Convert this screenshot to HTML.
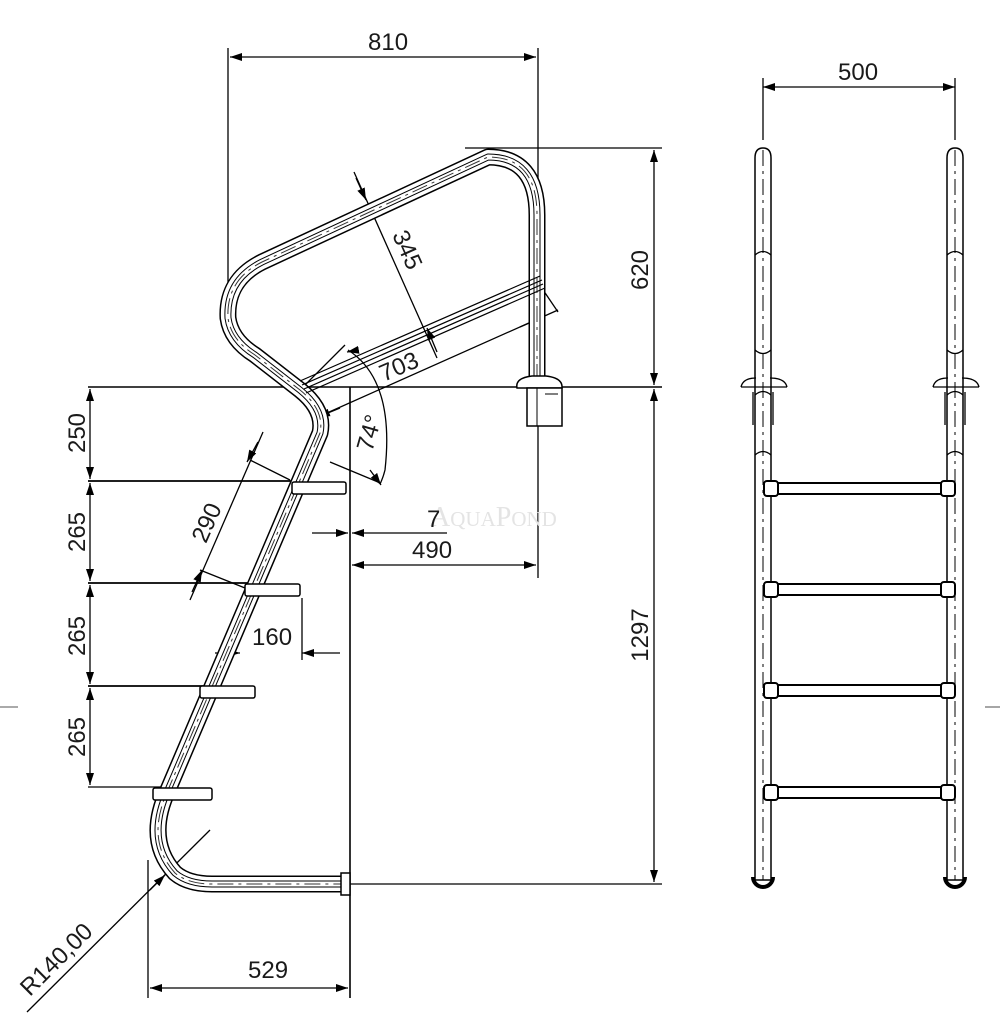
<!DOCTYPE html>
<html><head><meta charset="utf-8"><style>
html,body{margin:0;padding:0;background:#fff;}
svg{display:block;}
text{font-family:"Liberation Sans",sans-serif;font-size:24px;fill:#1a1a1a;}
</style></head><body>
<svg width="1000" height="1035" viewBox="0 0 1000 1035" xmlns="http://www.w3.org/2000/svg">
<defs>
<marker id="a" viewBox="0 0 12 8" refX="12" refY="4" markerWidth="12" markerHeight="8" orient="auto-start-reverse" markerUnits="userSpaceOnUse"><path d="M0,0 L12,4 L0,8 z" fill="#000"/></marker>
</defs>
<g fill="none" stroke="#000" stroke-width="1.3">
<line x1="228" y1="48" x2="228" y2="292"/>
<line x1="538" y1="48" x2="538" y2="578"/>
<line x1="465" y1="148" x2="662" y2="148"/>
<line x1="88" y1="387" x2="662" y2="387" stroke-width="1.6"/>
<line x1="350" y1="387" x2="350" y2="998" stroke-width="1.6"/>
<line x1="350" y1="884" x2="662" y2="884"/>
<line x1="148" y1="860" x2="148" y2="998"/>
<line x1="88" y1="481" x2="300" y2="481" stroke-width="1.8"/>
<line x1="88" y1="583" x2="255" y2="583" stroke-width="1.8"/>
<line x1="88" y1="686" x2="210" y2="686" stroke-width="1.8"/>
<line x1="88" y1="787" x2="165" y2="787"/>
<line x1="0" y1="707" x2="18" y2="707" stroke="#777"/>
<line x1="985" y1="707" x2="1000" y2="707" stroke="#777"/>
<line x1="230" y1="57" x2="536" y2="57" marker-start="url(#a)" marker-end="url(#a)"/>
<line x1="763" y1="87" x2="955" y2="87" marker-start="url(#a)" marker-end="url(#a)"/>
<line x1="763" y1="78" x2="763" y2="140"/>
<line x1="955" y1="78" x2="955" y2="140"/>
<line x1="654" y1="150" x2="654" y2="385" marker-start="url(#a)" marker-end="url(#a)"/>
<line x1="654" y1="389" x2="654" y2="882" marker-start="url(#a)" marker-end="url(#a)"/>
<line x1="90" y1="389" x2="90" y2="479" marker-start="url(#a)" marker-end="url(#a)"/>
<line x1="90" y1="483" x2="90" y2="581" marker-start="url(#a)" marker-end="url(#a)"/>
<line x1="90" y1="585" x2="90" y2="684" marker-start="url(#a)" marker-end="url(#a)"/>
<line x1="90" y1="688" x2="90" y2="785" marker-start="url(#a)" marker-end="url(#a)"/>
<line x1="352" y1="565" x2="536" y2="565" marker-start="url(#a)" marker-end="url(#a)"/>
<line x1="312" y1="533" x2="348" y2="533" marker-end="url(#a)"/>
<line x1="447" y1="533" x2="352" y2="533" marker-end="url(#a)"/>
<line x1="150" y1="988" x2="348" y2="988" marker-start="url(#a)" marker-end="url(#a)"/>
<line x1="215" y1="653" x2="240" y2="653" marker-end="url(#a)"/>
<line x1="340" y1="653" x2="302" y2="653" marker-end="url(#a)"/>
<line x1="302" y1="598" x2="302" y2="660"/>
<line x1="263" y1="432" x2="190" y2="600"/>
<line x1="250" y1="460" x2="290" y2="480"/>
<line x1="200" y1="570" x2="245" y2="588"/>
<path d="M258,442 L247,462" marker-end="url(#a)"/>
<path d="M192,592 L202,570" marker-end="url(#a)"/>
<line x1="354" y1="172" x2="437" y2="358"/>
<path d="M356,178 L366,200" marker-end="url(#a)"/>
<path d="M437,352 L427,328" marker-end="url(#a)"/>
<line x1="318" y1="417" x2="558" y2="310"/>
<line x1="535" y1="278" x2="558" y2="312"/>
<path d="M340,408 L318,417" marker-end="url(#a)"/>
<path d="M520,327 L545,316" marker-end="url(#a)"/>
<line x1="345" y1="345" x2="305" y2="385"/>
<path d="M348,350 Q395,380 385,470 Q383,478 380,484"/>
<path d="M370,470 L381,485" marker-end="url(#a)"/>
<path d="M358,350 L347,352" marker-end="url(#a)"/>
<line x1="330" y1="462" x2="378" y2="482"/>
<line x1="210" y1="830" x2="27" y2="1012"/>
<path d="M150,890 L165,875" marker-end="url(#a)"/>
</g>

<g fill="none" stroke-linecap="butt" stroke-linejoin="round">
<path d="M537,380 L537,215 Q537,157 488,157 L262,262 Q226,280 228,318 Q231,340 255,355 L300,390 Q325,410 320,433 L168,790 Q145,840 175,873 Q188,884 212,884 L345,884" stroke="#000" stroke-width="17"/>
<path d="M537,380 L537,215 Q537,157 488,157 L262,262 Q226,280 228,318 Q231,340 255,355 L300,390 Q325,410 320,433 L168,790 Q145,840 175,873 Q188,884 212,884 L345,884" stroke="#fff" stroke-width="14"/>
<path d="M537,380 L537,215 Q537,157 488,157 L262,262 Q226,280 228,318 Q231,340 255,355 L300,390 Q325,410 320,433 L168,790 Q145,840 175,873 Q188,884 212,884 L345,884" stroke="#000" stroke-width="7"/>
<path d="M537,380 L537,215 Q537,157 488,157 L262,262 Q226,280 228,318 Q231,340 255,355 L300,390 Q325,410 320,433 L168,790 Q145,840 175,873 Q188,884 212,884 L345,884" stroke="#fff" stroke-width="5"/>
<path d="M537,380 L537,215 Q537,157 488,157 L262,262 Q226,280 228,318 Q231,340 255,355 L300,390 Q325,410 320,433 L168,790 Q145,840 175,873 Q188,884 212,884 L345,884" stroke="#333" stroke-width="1" stroke-dasharray="16,5,3,5"/>
</g>
<g stroke="#000" stroke-width="1.2" fill="none">
<line x1="300" y1="381" x2="540" y2="276"/>
<line x1="302" y1="385" x2="542" y2="280"/>
<line x1="304" y1="389" x2="543" y2="284"/>
<line x1="306" y1="393" x2="545" y2="288"/>
</g>
<path d="M517,388 Q515,378 532,376 L546,376 Q563,378 562,388 Z" fill="#fff" stroke="#000" stroke-width="1.5"/>
<rect x="527" y="388" width="35" height="38" fill="#fff" stroke="#000" stroke-width="1.5"/>
<line x1="537" y1="388" x2="537" y2="426" stroke="#000"/>
<line x1="545" y1="394" x2="558" y2="394" stroke="#000"/>
<g fill="#fff" stroke="#000" stroke-width="1.5">
<rect x="292" y="482" width="54" height="12" rx="2"/>
<rect x="245" y="584" width="55" height="12" rx="2"/>
<rect x="200" y="686" width="55" height="12" rx="2"/>
<rect x="153" y="788" width="59" height="12" rx="2"/>
<rect x="341" y="873" width="9" height="22"/>
</g>

<g fill="#fff" stroke="#000" stroke-width="1.5">
<path d="M755,880 L755,158 Q755,148 763,148 Q771,148 771,158 L771,880 Z"/>
<path d="M947,880 L947,158 Q947,148 955,148 Q963,148 963,158 L963,880 Z"/>
</g>
<g fill="none" stroke="#000" stroke-width="1">
<line x1="763" y1="150" x2="763" y2="880" stroke-dasharray="16,5,3,5"/>
<line x1="955" y1="150" x2="955" y2="880" stroke-dasharray="16,5,3,5"/>
</g>
<g fill="none" stroke="#000" stroke-width="1.3">
<path d="M755,255 Q763,248 771,255 M755,350 Q763,357 771,350 M755,395 Q763,388 771,395 M755,455 Q763,448 771,455"/>
<path d="M947,255 Q955,248 963,255 M947,350 Q955,357 963,350 M947,395 Q955,388 963,395 M947,455 Q955,448 963,455"/>
<path d="M741,387 Q743,378 756,378 M770,378 Q785,378 787,387 M741,387 L787,387"/>
<path d="M933,387 Q935,378 948,378 M962,378 Q977,378 979,387 M933,387 L979,387"/>
<line x1="753" y1="392" x2="753" y2="425"/><line x1="773" y1="392" x2="773" y2="425"/>
<line x1="945" y1="392" x2="945" y2="425"/><line x1="965" y1="392" x2="965" y2="425"/>
</g>
<g fill="#fff" stroke="#000" stroke-width="2">
<rect x="772" y="483" width="175" height="11"/>
<rect x="772" y="584" width="175" height="11"/>
<rect x="772" y="685" width="175" height="11"/>
<rect x="772" y="787" width="175" height="11"/>
<rect x="764" y="481" width="14" height="15" rx="3"/><rect x="941" y="481" width="14" height="15" rx="3"/>
<rect x="764" y="582" width="14" height="15" rx="3"/><rect x="941" y="582" width="14" height="15" rx="3"/>
<rect x="764" y="683" width="14" height="15" rx="3"/><rect x="941" y="683" width="14" height="15" rx="3"/>
<rect x="764" y="785" width="14" height="15" rx="3"/><rect x="941" y="785" width="14" height="15" rx="3"/>
</g>
<g fill="none" stroke="#000" stroke-width="4">
<path d="M753,877 A10,10 0 0 0 773,877"/>
<path d="M945,877 A10,10 0 0 0 965,877"/>
</g>

<text x="430" y="526" style="font-family:'Liberation Serif',serif;font-size:28px;fill:#e4e4e4;">A<tspan font-size="21">QUA</tspan>P<tspan font-size="21">OND</tspan></text>

<text x="368" y="50">810</text>
<text x="838" y="80">500</text>
<text x="427" y="527">7</text>
<text x="412" y="558">490</text>
<text x="252" y="645">160</text>
<text x="248" y="978">529</text>
<text transform="translate(648,270) rotate(-90)" text-anchor="middle">620</text>
<text transform="translate(648,635) rotate(-90)" text-anchor="middle">1297</text>
<text transform="translate(85,433) rotate(-90)" text-anchor="middle">250</text>
<text transform="translate(85,532) rotate(-90)" text-anchor="middle">265</text>
<text transform="translate(85,636) rotate(-90)" text-anchor="middle">265</text>
<text transform="translate(85,737) rotate(-90)" text-anchor="middle">265</text>
<text transform="translate(214,526) rotate(-66)" text-anchor="middle">290</text>
<text transform="translate(400,253) rotate(66)" text-anchor="middle">345</text>
<text transform="translate(402,374) rotate(-23)" text-anchor="middle">703</text>
<text transform="translate(377,435) rotate(-74)" text-anchor="middle">74°</text>
<text transform="translate(62,965) rotate(-45)" text-anchor="middle">R140,00</text>
</svg>
</body></html>
